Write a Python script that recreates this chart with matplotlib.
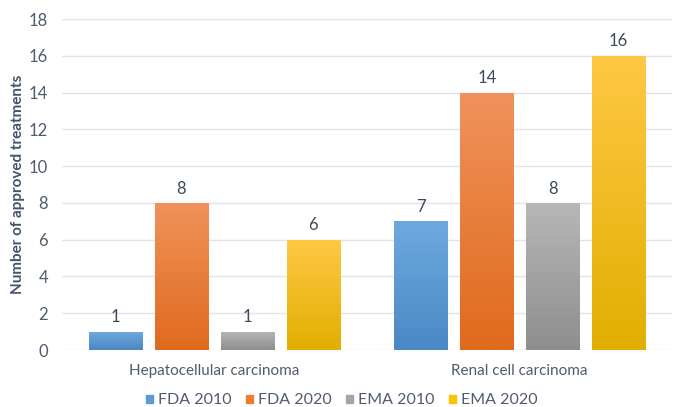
import numpy as np
import matplotlib.pyplot as plt
from matplotlib.patches import Patch
from matplotlib.colors import LinearSegmentedColormap

categories = ["Hepatocellular carcinoma", "Renal cell carcinoma"]
series = ["FDA 2010", "FDA 2020", "EMA 2010", "EMA 2020"]
fda_2010 = [1, 7]
fda_2020 = [8, 14]
ema_2010 = [1, 8]
ema_2020 = [6, 16]
values = [fda_2010, fda_2020, ema_2010, ema_2020]

base_colors = ["#5B9BD5", "#ED7D31", "#A5A5A5", "#FFC000"]
top_colors = ["#6EA9DE", "#F0925C", "#B7B7B7", "#FFC845"]
bottom_colors = ["#4A88C6", "#E06A1C", "#8E8E8E", "#E2AE00"]

plt.rcParams["font.family"] = ["Lato", "DejaVu Sans"]
text_color = "#4F5B6E"

fig = plt.figure(figsize=(6.73, 4.07), dpi=100)
ax = fig.add_axes([0.092, 0.140, 0.907, 0.813])

x = np.arange(len(categories))
width = 0.174
step = 0.216
offsets = (np.arange(len(series)) - 1.5) * step

for i, (name, vals) in enumerate(zip(series, values)):
    bars = ax.bar(x + offsets[i], vals, width, color=base_colors[i], zorder=2)
    cmap = LinearSegmentedColormap.from_list(name, [bottom_colors[i], top_colors[i]])
    for b, v in zip(bars, vals):
        grad = np.linspace(0, 1, 256).reshape(-1, 1)
        im = ax.imshow(grad, cmap=cmap, origin="lower", aspect="auto",
                       extent=[b.get_x(), b.get_x() + width, 0, v], zorder=3)
        im.set_clip_path(b)
        ax.text(b.get_x() + width / 2, v + 0.35, str(v), ha="center", va="bottom",
                fontsize=12, color="#404A5A")

ax.set_xlim(-0.5, 1.5)
ax.set_ylim(0, 18)
ax.set_yticks(range(0, 19, 2))
ax.set_xticks(x)
ax.set_xticklabels(categories, fontsize=11, color=text_color)
ax.tick_params(axis="both", length=0, labelsize=12, labelcolor=text_color)
ax.tick_params(axis="x", labelsize=11, pad=10)
ax.tick_params(axis="y", pad=10)
ax.grid(axis="y", color="#E1E4EA", linewidth=1, zorder=0)
ax.set_axisbelow(True)
for s in ax.spines.values():
    s.set_visible(False)

ax.set_ylabel("Number of approved treatments", fontsize=11, fontweight="bold",
              color="#44546A", labelpad=3)

handles = [Patch(color=c, label=n) for c, n in zip(base_colors, series)]
fig.legend(handles=handles, loc="center", bbox_to_anchor=(0.508, 0.016), ncol=4,
           frameon=False, fontsize=11.5, handlelength=0.45, handleheight=0.45,
           handletextpad=0.3, columnspacing=0.9, labelcolor=text_color,
           borderpad=0)

fig.savefig("out.png", dpi=100)
